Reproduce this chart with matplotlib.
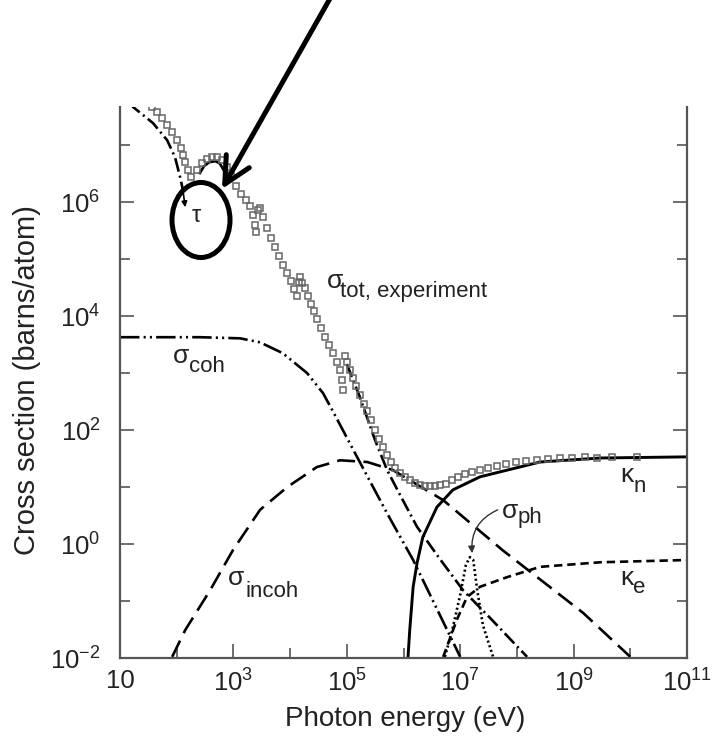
import numpy as np
import matplotlib
matplotlib.use('Agg')
import matplotlib.pyplot as plt
from matplotlib.patches import Ellipse, FancyArrowPatch
from matplotlib.ticker import FixedLocator, FuncFormatter, NullFormatter

plt.rcParams['font.family'] = ['Liberation Sans', 'DejaVu Sans']
plt.rcParams['mathtext.fontset'] = 'custom'
plt.rcParams['mathtext.rm'] = 'Liberation Sans'
plt.rcParams['lines.scale_dashes'] = False

# all values are log10 (energy in eV, cross section in barns/atom)
# measured total cross section (open squares)
tot_logE = [1.56, 1.65, 1.74, 1.83, 1.92, 2.01, 2.08, 2.11, 2.15, 2.20, 2.25,
            2.36, 2.45, 2.53, 2.62, 2.71, 2.80, 2.89, 2.96, 3.05, 3.13, 3.22, 3.29, 3.35, 3.38, 3.40,
            3.43, 3.47, 3.52, 3.59, 3.66, 3.73, 3.80, 3.87, 3.95, 4.02, 4.07, 4.12,
            4.16, 4.17, 4.21, 4.26, 4.32, 4.37, 4.42, 4.47, 4.55, 4.62, 4.69, 4.76, 4.83, 4.88, 4.92, 4.93,
            4.97, 5.00, 5.06, 5.11, 5.16, 5.23, 5.30, 5.36, 5.43, 5.50, 5.57, 5.64, 5.71, 5.78, 5.85,
            5.94, 6.03, 6.11, 6.20, 6.29, 6.38, 6.47, 6.56, 6.64, 6.75, 6.86, 6.96, 7.08, 7.21, 7.35,
            7.49, 7.65, 7.81, 7.98, 8.16, 8.35, 8.55, 8.76, 8.97, 9.20, 9.41, 9.68, 10.12]
tot_logS = [7.67, 7.58, 7.47, 7.35, 7.23, 7.09, 6.95, 6.82, 6.70, 6.56, 6.44,
            6.56, 6.68, 6.75, 6.79, 6.79, 6.74, 6.61, 6.47, 6.28, 6.14, 6.04, 5.93, 5.77, 5.60, 5.47,
            5.86, 5.89, 5.74, 5.54, 5.37, 5.21, 5.05, 4.89, 4.75, 4.61, 4.47, 4.35,
            4.60, 4.68, 4.58, 4.49, 4.35, 4.21, 4.09, 3.95, 3.79, 3.63, 3.49, 3.35, 3.19, 3.05, 2.88, 2.70,
            3.30, 3.19, 3.05, 2.91, 2.77, 2.61, 2.46, 2.33, 2.18, 2.00, 1.84, 1.70, 1.56, 1.44, 1.33,
            1.25, 1.18, 1.12, 1.07, 1.04, 1.02, 1.02, 1.02, 1.04, 1.05, 1.12, 1.18, 1.23, 1.26, 1.30,
            1.33, 1.37, 1.40, 1.44, 1.46, 1.47, 1.49, 1.51, 1.51, 1.53, 1.51, 1.53, 1.53]

# photoelectric tau: low-energy branch, N-edge hump, high-energy branch
tau_lo_logE = [1.18, 1.23, 1.58, 1.83, 1.97, 2.06, 2.11]
tau_lo_logS = [7.75, 7.67, 7.39, 7.09, 6.79, 6.44, 6.21]
tau_hump_logE = [2.41, 2.48, 2.57, 2.68, 2.76, 2.83, 2.87]
tau_hump_logS = [6.51, 6.63, 6.70, 6.72, 6.68, 6.56, 6.44]
tau_hi_logE = [5.00, 5.23, 5.50, 5.71, 5.94, 6.24, 6.64, 7.05, 7.53, 8.18]
tau_hi_logS = [3.16, 2.58, 1.82, 1.30, 0.86, 0.30, -0.26, -0.81, -1.30, -1.98]

# coherent scattering
coh_logE = [1.00, 2.41, 3.12, 3.47, 3.87, 4.30, 4.58, 4.76, 5.18, 5.71, 6.17, 7.00]
coh_logS = [3.63, 3.63, 3.61, 3.54, 3.35, 3.00, 2.65, 2.32, 1.53, 0.54, -0.28, -1.98]

# incoherent scattering
incoh_logE = [1.92, 2.15, 2.59, 2.99, 3.47, 3.95, 4.47, 4.88, 5.36, 5.81, 6.70, 7.75, 9.17, 10.0]
incoh_logS = [-1.98, -1.51, -0.81, -0.11, 0.60, 1.00, 1.35, 1.47, 1.44, 1.30, 0.77, -0.11, -1.21, -1.98]

# pair production, nuclear field
kn_logE = [6.08, 6.11, 6.17, 6.24, 6.34, 6.59, 6.87, 7.35, 8.41, 9.47, 11.0]
kn_logS = [-1.98, -1.51, -0.75, -0.33, 0.12, 0.65, 0.95, 1.18, 1.44, 1.51, 1.53]

# pair production, electron field
ke_logE = [6.70, 6.94, 7.12, 7.35, 7.83, 8.41, 9.47, 11.0]
ke_logS = [-1.98, -1.33, -0.93, -0.75, -0.58, -0.40, -0.32, -0.28]

# photonuclear
ph_logE = [6.73, 6.86, 7.00, 7.10, 7.17, 7.23, 7.30, 7.40, 7.58]
ph_logS = [-1.98, -1.51, -0.89, -0.37, -0.23, -0.28, -0.81, -1.42, -1.98]


def p(v):
    return 10.0 ** np.asarray(v)


fig = plt.figure(figsize=(7.16, 7.38), dpi=100)
ax = fig.add_axes([0.1676, 0.1084, 0.7919, 0.7466])
ax.set_xscale('log')
ax.set_yscale('log')
ax.set_xlim(10, 1e11)
ax.set_ylim(1e-2, 10 ** 7.67)

lw = 1.9
ax.plot(p(tau_lo_logE), p(tau_lo_logS), color='k', lw=lw, dashes=(10, 3, 1.5, 3))
ax.plot(p(tau_hump_logE), p(tau_hump_logS), color='k', lw=lw)
ax.plot(p(tau_hi_logE), p(tau_hi_logS), color='k', lw=lw, dashes=(10, 3, 1.5, 3))
ax.plot(p(coh_logE), p(coh_logS), color='k', lw=lw, dashes=(14, 3, 1.5, 3, 1.5, 3))
ax.plot(p(incoh_logE), p(incoh_logS), color='k', lw=lw, dashes=(13, 6))
ax.plot(p(kn_logE), p(kn_logS), color='k', lw=2.1)
ax.plot(p(ke_logE), p(ke_logS), color='k', lw=lw, dashes=(6, 3.5))
ax.plot(p(ph_logE), p(ph_logS), color='k', lw=lw, dashes=(1.5, 2))
ax.plot(p(tot_logE), p(tot_logS), ls='none', marker='s', ms=5, mfc='none',
        mec='#666666', mew=1.1)

# small arrow from the tau curve towards its label
ax.annotate('', xy=(10 ** 2.15, 10 ** 5.91), xytext=(10 ** 2.11, 10 ** 6.21),
            arrowprops=dict(arrowstyle='-|>', color='k', lw=1.2, mutation_scale=8,
                            shrinkA=0, shrinkB=0))


def label(x, y, main, sub, dx, dy):
    ax.text(10 ** x, 10 ** y, main, fontsize=19, ha='left', va='baseline', color='#222222')
    ax.annotate(sub, (10 ** x, 10 ** y), xytext=(dx, dy), textcoords='offset points',
                fontsize=16, ha='left', va='baseline', color='#222222')


label(4.65, 4.49, 'σ', 'tot, experiment', 9.6, -6.5)
label(1.93, 3.18, 'σ', 'coh', 11.5, -6.5)
label(2.90, -0.72, 'σ', 'incoh', 12.5, -8.6)
label(9.82, 1.09, 'κ', 'n', 9.6, -7.2)
label(9.82, -0.72, 'κ', 'e', 9.6, -6.0)
label(7.74, 0.46, 'σ', 'ph', 11.0, -3.6)
ax.text(10 ** 2.27, 10 ** 5.65, 'τ', fontsize=17, ha='left', va='baseline', color='#222222')

ax.annotate('', xy=(10 ** 7.21, 10 ** -0.16), xytext=(10 ** 7.66, 10 ** 0.60),
            arrowprops=dict(arrowstyle='-|>', color='#333333', lw=1.0, mutation_scale=10,
                            shrinkA=0, shrinkB=0, connectionstyle='arc3,rad=0.35'))

# axes styling
ax.xaxis.set_major_locator(FixedLocator(10.0 ** np.arange(1, 12, 2)))
ax.xaxis.set_minor_locator(FixedLocator(10.0 ** np.arange(2, 11, 2)))
ax.yaxis.set_major_locator(FixedLocator(10.0 ** np.arange(-2, 7, 2)))
ax.yaxis.set_minor_locator(FixedLocator(10.0 ** np.arange(-1, 8, 2)))
ax.xaxis.set_minor_formatter(NullFormatter())
ax.yaxis.set_minor_formatter(NullFormatter())


def fmt(v, pos):
    e = int(round(np.log10(v)))
    if e == 1:
        return '10'
    return r'$\mathregular{10^{%d}}$' % e


ax.xaxis.set_major_formatter(FuncFormatter(fmt))
ax.yaxis.set_major_formatter(FuncFormatter(fmt))
ax.tick_params(which='both', direction='in', right=True, top=False, width=1.2,
               color='#555555', labelsize=18.5, labelcolor='#222222')
ax.tick_params(which='major', length=10)
ax.tick_params(which='minor', length=7)
ax.tick_params(axis='x', pad=8)
ax.tick_params(axis='y', pad=14)
ax.spines['top'].set_visible(False)
for s in ['left', 'right', 'bottom']:
    ax.spines[s].set_linewidth(1.6)
    ax.spines[s].set_color('#555555')

ax.set_xlabel('Photon energy (eV)', fontsize=20, color='#222222')
ax.set_ylabel('Cross section (barns/atom)', fontsize=21, color='#222222')
ax.xaxis.set_label_coords(0.503, -0.088)
ax.yaxis.set_label_coords(-0.14, 0.505)

# hand-drawn highlight: circle round tau and a big arrow
fig.add_artist(Ellipse((2.01, 5.18), 0.58, 0.75, transform=fig.dpi_scale_trans,
                       fill=False, lw=3.6, ec='k'))
fig.add_artist(FancyArrowPatch(posA=(3.32, 7.43), posB=(2.22, 5.49),
                               transform=fig.dpi_scale_trans,
                               arrowstyle='->,head_length=1.9,head_width=0.95',
                               mutation_scale=10, lw=3.6, color='k',
                               shrinkA=0, shrinkB=0))

fig.savefig('out.png', dpi=100)
